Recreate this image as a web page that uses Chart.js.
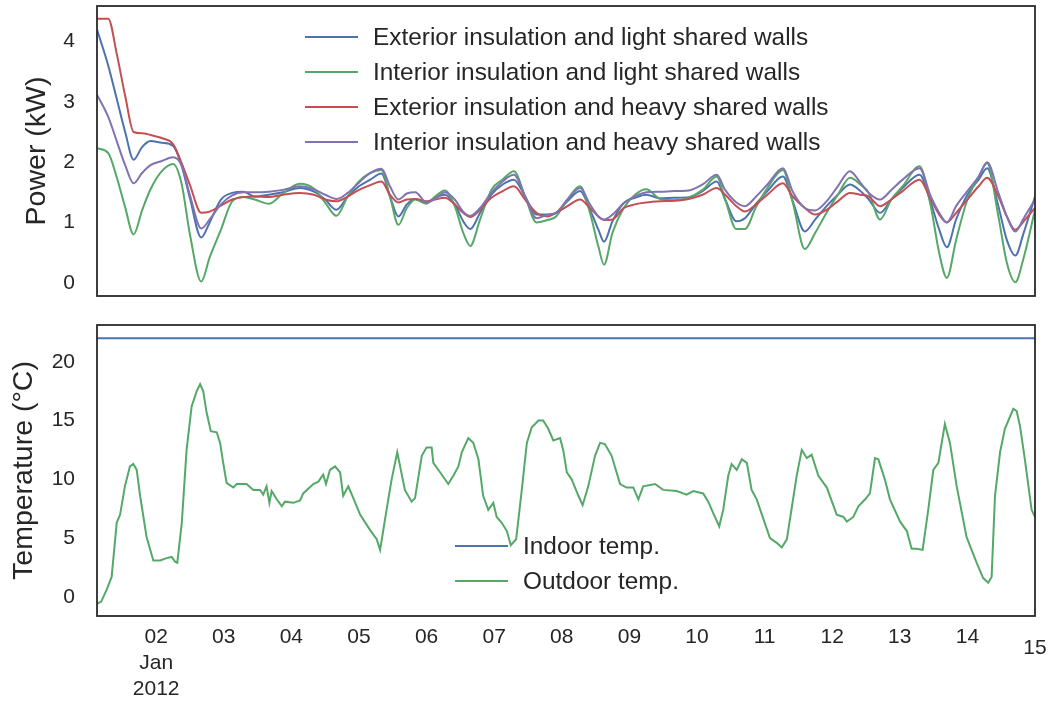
<!DOCTYPE html>
<html>
<head>
<meta charset="utf-8">
<script src="https://cdn.jsdelivr.net/npm/chart.js@4.4.1/dist/chart.umd.min.js"></script>
<style>
  html, body { margin: 0; padding: 0; background: #ffffff; }
  #wrap { position: relative; width: 1052px; height: 704px; background: #ffffff; }
  canvas { position: absolute; left: 0; }
  #c1 { top: 0; }
  #c2 { top: 310px; }
</style>
</head>
<body>
<div id="wrap">
  <canvas id="c1" width="1052" height="310"></canvas>
  <canvas id="c2" width="1052" height="394"></canvas>
</div>
<script>
// ---------- DATA (hours since 2012-01-01 00:00) ----------
const powerHours = [3, 7, 10, 13, 16, 19, 22, 26, 30, 33, 36, 40, 43, 47, 51, 55, 59, 64, 69, 75, 80, 84, 88, 92, 96, 100,
  104, 107, 110, 113, 116, 120, 123, 126.5, 130, 133, 135.5, 139, 143, 147, 151, 155, 159, 163, 166, 170, 174.5, 178,
  181, 183, 186, 190, 194, 198, 203, 208, 213, 218, 223, 226, 230, 233, 237, 241, 246.5, 250, 254.3, 258, 262, 266,
  270.3, 274, 277, 281, 285, 289, 295, 299, 302, 304.7, 308, 312, 316, 319, 323, 326, 329, 332, 336];

const extLight = [4.2, 3.6, 3.05, 2.5, 2.04, 2.25, 2.35, 2.32, 2.27, 1.95, 1.4, 0.75, 1.0, 1.38, 1.49, 1.51, 1.43, 1.46, 1.50, 1.57, 1.51, 1.38, 1.21, 1.43, 1.60, 1.71,
  1.81, 1.43, 1.10, 1.30, 1.39, 1.33, 1.41, 1.46, 1.30, 1.02, 0.89, 1.16, 1.46, 1.63, 1.71, 1.43, 1.13, 1.13, 1.16, 1.35, 1.52, 1.21,
  0.88, 0.68, 1.02, 1.32, 1.41, 1.46, 1.40, 1.41, 1.42, 1.52, 1.68, 1.38, 1.02, 1.07, 1.31, 1.52, 1.76, 1.35, 0.85, 1.05, 1.27, 1.46,
  1.63, 1.52, 1.38, 1.16, 1.38, 1.57, 1.79, 1.33, 0.88, 0.59, 1.05, 1.46, 1.71, 1.90, 1.27, 0.71, 0.45, 0.83, 1.43];

const intLight = [2.23, 2.15, 1.75, 1.25, 0.8, 1.2, 1.55, 1.85, 1.97, 1.65, 0.8, 0.02, 0.42, 0.88, 1.35, 1.42, 1.38, 1.31, 1.48, 1.64, 1.56, 1.33, 1.11, 1.43, 1.68, 1.82,
  1.87, 1.43, 0.96, 1.24, 1.38, 1.31, 1.43, 1.53, 1.27, 0.83, 0.61, 1.05, 1.54, 1.71, 1.85, 1.43, 1.00, 1.04, 1.10, 1.38, 1.60, 1.16,
  0.60, 0.30, 0.83, 1.24, 1.46, 1.55, 1.39, 1.37, 1.41, 1.54, 1.76, 1.38, 0.89, 0.89, 1.26, 1.57, 1.87, 1.33, 0.56, 0.83, 1.16, 1.46,
  1.74, 1.63, 1.49, 1.05, 1.38, 1.60, 1.93, 1.27, 0.49, 0.08, 0.71, 1.38, 1.76, 1.98, 1.10, 0.33, 0.01, 0.42, 1.21];

const extHeavy = [4.38, 4.38, 3.8, 3.1, 2.5, 2.48, 2.45, 2.4, 2.3, 1.99, 1.62, 1.16, 1.18, 1.28, 1.38, 1.42, 1.43, 1.42, 1.46, 1.49, 1.46, 1.38, 1.35, 1.43, 1.54, 1.62,
  1.68, 1.46, 1.33, 1.38, 1.39, 1.35, 1.38, 1.41, 1.30, 1.16, 1.09, 1.21, 1.41, 1.52, 1.60, 1.38, 1.16, 1.10, 1.16, 1.27, 1.38, 1.24,
  1.10, 1.04, 1.05, 1.24, 1.30, 1.33, 1.35, 1.36, 1.39, 1.46, 1.57, 1.46, 1.27, 1.18, 1.30, 1.46, 1.65, 1.43, 1.24, 1.13, 1.21, 1.35,
  1.49, 1.46, 1.43, 1.27, 1.38, 1.52, 1.71, 1.38, 1.13, 1.00, 1.16, 1.38, 1.60, 1.74, 1.43, 1.10, 0.88, 1.02, 1.24];

const intHeavy = [3.12, 2.75, 2.35, 1.95, 1.65, 1.82, 1.95, 2.02, 2.08, 1.95, 1.45, 0.9, 1.05, 1.3, 1.45, 1.5, 1.50, 1.51, 1.54, 1.60, 1.55, 1.46, 1.39, 1.49, 1.66, 1.82,
  1.89, 1.60, 1.38, 1.48, 1.50, 1.33, 1.39, 1.50, 1.38, 1.18, 1.11, 1.24, 1.49, 1.68, 1.79, 1.43, 1.07, 1.13, 1.16, 1.38, 1.57, 1.30,
  1.10, 1.05, 1.13, 1.32, 1.43, 1.50, 1.51, 1.52, 1.53, 1.63, 1.79, 1.54, 1.33, 1.27, 1.43, 1.63, 1.90, 1.51, 1.24, 1.20, 1.35, 1.60,
  1.85, 1.66, 1.49, 1.38, 1.54, 1.71, 1.90, 1.43, 1.16, 1.00, 1.27, 1.52, 1.76, 2.00, 1.49, 1.10, 0.85, 1.07, 1.38];

const powerLabels = [
  'Exterior insulation and light shared walls',
  'Interior insulation and light shared walls',
  'Exterior insulation and heavy shared walls',
  'Interior insulation and heavy shared walls'
];

const outdoorHours = [3, 4.5, 6.4, 8.2, 10.0, 11.2, 12.9, 14.7, 15.9, 17.1, 18.3, 20.6, 23.0, 25.4, 27.7, 29.5, 30.7, 31.5,
  33.1, 34.8, 36.6, 38.4, 39.6, 40.7, 41.9, 43.4, 45.5, 46.7, 47.8, 49.0, 51.4, 52.6, 56.1, 58.5, 60.9, 62.0, 63.2,
  64.2, 65.0, 66.8, 68.6, 69.7, 72.7, 75.1, 76.2, 79.8, 81.6, 83.3, 84.3, 85.7, 87.5, 89.3, 90.4, 92.2, 94.0, 96.4,
  99.9, 102.3, 103.5, 105.8, 107.6, 109.6, 112.3, 114.7, 115.9, 118.3, 120.0, 121.8, 122.4, 124.8, 127.7, 129.5,
  131.3, 132.5, 134.8, 136.6, 138.4, 140.1, 141.9, 143.7, 144.9, 146.7, 148.5, 149.9, 151.8, 153.8, 155.6, 157.3,
  159.7, 161.4, 163.2, 165.0, 167.4, 168.5, 169.8, 171.5, 173.9, 175.4, 177.4, 179.8, 181.6, 183.3, 185.7, 188.7,
  191.0, 193.4, 195.2, 196.9, 201.1, 204.0, 208.8, 212.3, 214.7, 218.2, 220.0, 221.8, 223.9, 225.3, 227.1, 228.3,
  230.1, 231.9, 233.7, 235.4, 237.2, 241.9, 244.3, 246.1, 247.9, 251.4, 253.2, 255.0, 256.7, 259.1, 262.1, 265.6,
  268.0, 269.2, 271.5, 273.3, 275.7, 277.4, 279.2, 280.4, 282.7, 284.5, 288.1, 290.5, 292.2, 294.0, 296.1, 298.1,
  299.9, 301.7, 304.0, 305.8, 308.2, 311.7, 315.3, 317.6, 319.4, 320.6, 321.8, 323.6, 325.3, 328.3, 329.5, 330.7,
  332.4, 334.8, 336];

const outdoorTemp = [-0.6, -0.4, 0.6, 1.7, 6.3, 7.0, 9.4, 11.1, 11.3, 10.8, 8.6, 5.1, 3.1, 3.1, 3.3, 3.4, 3.0, 2.9,
  6.3, 12.5, 16.2, 17.5, 18.1, 17.5, 15.7, 14.1, 14.0, 13.1, 11.4, 9.7, 9.3, 9.6, 9.6, 9.1, 9.1, 8.7, 9.4,
  8.0, 9.0, 8.3, 7.7, 8.1, 8.0, 8.2, 8.8, 9.6, 9.8, 10.4, 9.6, 10.8, 11.1, 10.6, 8.6, 9.4, 8.4, 7.0,
  5.7, 4.9, 4.0, 7.4, 10.0, 12.3, 9.1, 8.1, 8.4, 12.0, 12.7, 12.7, 11.4, 10.6, 9.6, 10.3,
  11.1, 12.3, 13.5, 13.1, 11.7, 8.6, 7.4, 8.0, 6.8, 6.3, 5.6, 4.4, 4.9, 9.1, 13.1, 14.4,
  15.0, 15.0, 14.3, 13.3, 13.5, 12.5, 10.6, 10.0, 8.6, 7.8, 9.4, 12.0, 13.1, 13.0, 12.0, 9.6,
  9.3, 9.3, 8.3, 9.4, 9.6, 9.1, 9.0, 8.7, 9.0, 8.8, 8.1, 7.1, 6.0, 7.4, 10.3, 11.3,
  10.8, 11.7, 11.4, 9.1, 8.3, 5.0, 4.6, 4.2, 4.9, 10.3, 12.5, 11.8, 12.1, 10.3, 9.3, 7.0,
  6.8, 6.4, 6.8, 7.7, 8.3, 8.8, 11.8, 11.7, 10.0, 8.3, 6.4, 5.6, 4.1, 4.1, 4.0, 7.4,
  10.8, 11.4, 14.7, 13.1, 9.4, 5.1, 2.9, 1.6, 1.2, 1.7, 8.6, 12.3, 14.3, 16.0, 15.8, 14.5,
  11.7, 7.4, 6.8];

const indoorHours = [3, 336];
const indoorTemp = [22, 22];
const tempLabels = ['Indoor temp.', 'Outdoor temp.'];

const dayTickHours = [24, 48, 72, 96, 120, 144, 168, 192, 216, 240, 264, 288, 312, 336];
const dayTickLabels = ['02', '03', '04', '05', '06', '07', '08', '09', '10', '11', '12', '13', '14', '15'];
const monthLabel = 'Jan';
const yearLabel = '2012';
const powerTicks = [0, 1, 2, 3, 4];
const tempTicks = [0, 5, 10, 15, 20];

// ---------- STYLE ----------
const FONT = "'Liberation Sans', Arial, sans-serif";
const TEXT = '#262626';
const X_MIN = 3, X_MAX = 336;
const C_BLUE = '#4C72B0', C_GREEN = '#55A868', C_RED = '#C44E52', C_PURPLE = '#8172B2';

function pts(xs, ys) { return xs.map((x, i) => ({ x: x, y: ys[i] })); }

const framePlugin = {
  id: 'frame',
  afterDatasetsDraw(chart) {
    const a = chart.chartArea, ctx = chart.ctx;
    ctx.save();
    ctx.strokeStyle = '#2a2a2a';
    ctx.lineWidth = 1.8;
    ctx.strokeRect(a.left, a.top, a.right - a.left, a.bottom - a.top);
    ctx.restore();
  }
};

const insideLegend = {
  id: 'insideLegend',
  afterDraw(chart, args, o) {
    const ctx = chart.ctx;
    ctx.save();
    ctx.font = o.fontSize + 'px ' + FONT;
    ctx.textBaseline = 'middle';
    ctx.textAlign = 'left';
    chart.data.datasets.forEach((ds, i) => {
      const y = o.y + i * o.gap;
      ctx.strokeStyle = ds.borderColor;
      ctx.lineWidth = ds.borderWidth;
      ctx.beginPath();
      ctx.moveTo(o.x, y);
      ctx.lineTo(o.x + o.lineLen, y);
      ctx.stroke();
      ctx.fillStyle = TEXT;
      ctx.fillText(ds.label, o.x + o.lineLen + o.textGap, y + 1);
    });
    ctx.restore();
  }
};

function zeroPad(s) { s.paddingTop = 0; s.paddingBottom = 0; s.paddingLeft = 0; s.paddingRight = 0; }

function yScale(min, max, tickVals, title, titlePad) {
  return {
    type: 'linear', min: min, max: max, bounds: 'data',
    afterBuildTicks: s => { s.ticks = tickVals.map(v => ({ value: v })); },
    afterFit: s => { s.width = 97; zeroPad(s); },
    grid: { display: false, drawTicks: false },
    border: { display: false },
    ticks: { color: TEXT, font: { family: FONT, size: 21 }, padding: 22 },
    title: { display: true, text: title, color: TEXT, font: { family: FONT, size: 28.5 }, padding: { top: titlePad, bottom: 0 } }
  };
}

const lineDs = (label, data, color, order, smooth) => ({
  label: label, data: data, borderColor: color, backgroundColor: color, borderWidth: 2,
  pointRadius: 0, fill: false, order: order,
  cubicInterpolationMode: smooth ? 'monotone' : 'default', tension: 0
});

// ---------- TOP CHART ----------
new Chart(document.getElementById('c1'), {
  type: 'line',
  data: {
    datasets: [
      lineDs(powerLabels[0], pts(powerHours, extLight), C_BLUE, 3, true),
      lineDs(powerLabels[1], pts(powerHours, intLight), C_GREEN, 2, true),
      lineDs(powerLabels[2], pts(powerHours, extHeavy), C_RED, 1, true),
      lineDs(powerLabels[3], pts(powerHours, intHeavy), C_PURPLE, 0, true)
    ]
  },
  options: {
    responsive: false, animation: false,
    layout: { padding: { left: 0, right: 17, top: 6, bottom: 14 } },
    plugins: {
      legend: { display: false }, tooltip: { enabled: false },
      insideLegend: { x: 305, y: 37, gap: 35, lineLen: 53, textGap: 15, fontSize: 24.4 }
    },
    scales: {
      x: { type: 'linear', min: X_MIN, max: X_MAX, display: false },
      y: yScale(-0.22, 4.59, powerTicks, 'Power (kW)', 20)
    }
  },
  plugins: [framePlugin, insideLegend]
});

// ---------- BOTTOM CHART ----------
const lastIdx = dayTickHours.length - 1;
new Chart(document.getElementById('c2'), {
  type: 'line',
  data: {
    datasets: [
      lineDs(tempLabels[0], pts(indoorHours, indoorTemp), C_BLUE, 1, false),
      lineDs(tempLabels[1], pts(outdoorHours, outdoorTemp), C_GREEN, 0, false)
    ]
  },
  options: {
    responsive: false, animation: false,
    layout: { padding: { left: 0, right: 17, top: 15, bottom: 0 } },
    plugins: {
      legend: { display: false }, tooltip: { enabled: false },
      insideLegend: { x: 455, y: 236, gap: 35, lineLen: 53, textGap: 15, fontSize: 24.4 }
    },
    scales: {
      x: {
        type: 'linear', min: X_MIN, max: X_MAX, bounds: 'data',
        afterBuildTicks: s => { s.ticks = dayTickHours.map(v => ({ value: v })); },
        afterFit: s => { s.height = 88; zeroPad(s); },
        grid: { display: false, drawTicks: false },
        border: { display: false },
        ticks: {
          autoSkip: false, maxRotation: 0, color: TEXT, padding: 8,
          font: c => ({ family: FONT, size: 21, lineHeight: (c.index === lastIdx ? '48px' : '26px') }),
          callback: (v, i) => (i === 0 ? [dayTickLabels[i], monthLabel, yearLabel] : dayTickLabels[i])
        }
      },
      y: yScale(-1.625, 23.125, tempTicks, 'Temperature (°C)', 7)
    }
  },
  plugins: [framePlugin, insideLegend]
});
</script>
</body>
</html>
